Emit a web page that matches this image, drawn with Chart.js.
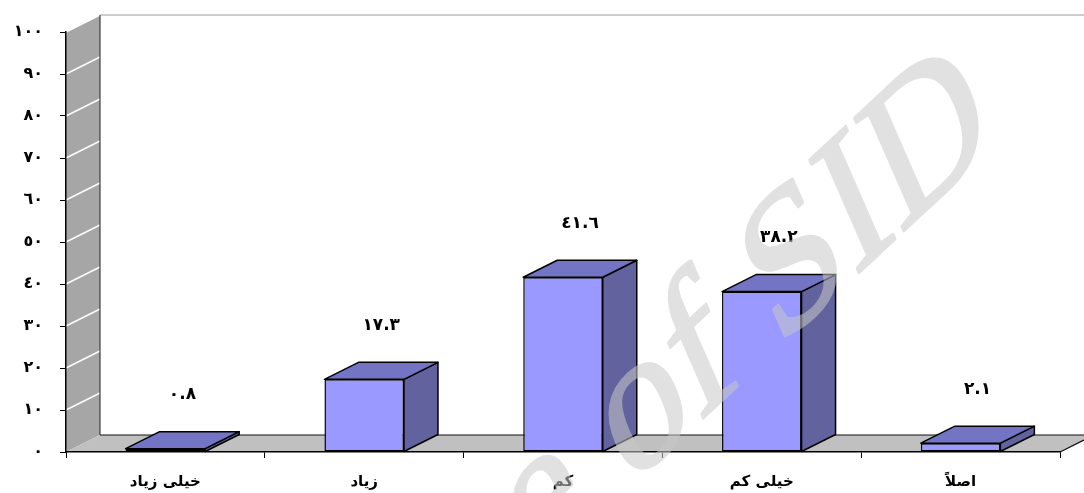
<!DOCTYPE html>
<html>
<head>
<meta charset="utf-8">
<script src="https://cdn.jsdelivr.net/npm/chart.js@4.4.0/dist/chart.umd.min.js"></script>
<style>
  html, body { margin: 0; padding: 0; background: #fff; }
</style>
</head>
<body>
<canvas id="chart" width="1084" height="493"></canvas>
<script>
// ---------- Data ----------
const categories = ['خیلی زیاد', 'زیاد', 'کم', 'خیلی کم', 'اصلاً'];
const values = [0.8, 17.3, 41.6, 38.2, 2.1];
const yTickLabels = ['٠', '١٠', '٢٠', '٣٠', '٤٠', '٥٠', '٦٠', '٧٠', '٨٠', '٩٠', '١٠٠'];

// ---------- Helpers ----------
const DX = 34, DY = -17;   // depth of the fake 3d box
const arabicDigits = '٠١٢٣٤٥٦٧٨٩';
const toArabic = s => String(s).replace(/\d/g, d => arabicDigits[d]);

function poly(ctx, pts) {
  ctx.beginPath();
  ctx.moveTo(pts[0][0], pts[0][1]);
  for (let i = 1; i < pts.length; i++) ctx.lineTo(pts[i][0], pts[i][1]);
  ctx.closePath();
}

function line(ctx, x1, y1, x2, y2) {
  ctx.beginPath();
  ctx.moveTo(x1, y1);
  ctx.lineTo(x2, y2);
  ctx.stroke();
}

// ---------- Walls, floor, bar tops/sides, labels, watermark ----------
const box3d = {
  id: 'box3d',
  beforeDraw(chart) {
    const { ctx, chartArea: a } = chart;
    const yScale = chart.scales.y;
    ctx.save();

    // back wall top edge
    ctx.strokeStyle = '#9a9a9a';
    ctx.lineWidth = 1;
    line(ctx, a.left + DX, a.top + DY, chart.width, a.top + DY);

    // left side wall
    ctx.fillStyle = '#a6a6a6';
    poly(ctx, [[a.left, a.bottom], [a.left, a.top], [a.left + DX, a.top + DY], [a.left + DX, a.bottom + DY]]);
    ctx.fill();

    // grid lines on the side wall
    ctx.strokeStyle = '#ffffff';
    ctx.lineWidth = 1.5;
    yScale.ticks.forEach(t => {
      if (t.value === 0) return;
      const py = yScale.getPixelForValue(t.value);
      line(ctx, a.left, py, a.left + DX, py + DY);
    });

    ctx.strokeStyle = '#222';
    ctx.lineWidth = 1;
    line(ctx, a.left + DX, a.top + DY, a.left + DX, a.bottom + DY);

    // floor
    ctx.fillStyle = '#c0c0c0';
    poly(ctx, [[a.left, a.bottom], [a.left + DX, a.bottom + DY], [a.right + DX, a.bottom + DY], [a.right, a.bottom]]);
    ctx.fill();
    ctx.strokeStyle = '#111';
    ctx.lineWidth = 1.2;
    ctx.beginPath();
    ctx.moveTo(a.left + DX, a.bottom + DY);
    ctx.lineTo(a.right + DX, a.bottom + DY);
    ctx.lineTo(a.right, a.bottom);
    ctx.stroke();
    ctx.restore();
  },
  afterDatasetsDraw(chart) {
    const { ctx } = chart;
    const meta = chart.getDatasetMeta(0);
    ctx.save();
    ctx.lineWidth = 1.5;
    ctx.strokeStyle = '#000';
    ctx.lineJoin = 'round';
    meta.data.forEach((bar, i) => {
      const x0 = bar.x - bar.width / 2, x1 = bar.x + bar.width / 2;
      const top = bar.y, base = bar.base;
      // side
      ctx.fillStyle = '#62629f';
      poly(ctx, [[x1, top], [x1 + DX, top + DY], [x1 + DX, base + DY], [x1, base]]);
      ctx.fill(); ctx.stroke();
      // top
      ctx.fillStyle = '#7474c4';
      poly(ctx, [[x0, top], [x0 + DX, top + DY], [x1 + DX, top + DY], [x1, top]]);
      ctx.fill(); ctx.stroke();
      // value label
      ctx.fillStyle = '#000';
      ctx.font = 'bold 17px "DejaVu Sans"';
      ctx.textAlign = 'center';
      ctx.textBaseline = 'middle';
      ctx.fillText(toArabic(values[i].toFixed(1)), bar.x + DX / 2, top - 54);
    });
    ctx.restore();
  },
  afterDraw(chart) {
    // skewed watermark text, drawn opaque off screen then blended in
    const off = document.createElement('canvas');
    off.width = chart.width;
    off.height = chart.height;
    const o = off.getContext('2d');
    o.setTransform(0.731, -0.682, 0.40, 0.916, 999, 142);
    o.font = '188px "Liberation Serif"';
    o.textAlign = 'right';
    o.textBaseline = 'alphabetic';
    o.fillStyle = 'rgb(200, 200, 200)';
    o.strokeStyle = 'rgb(200, 200, 200)';
    o.lineWidth = 3;
    o.lineJoin = 'round';
    o.fillText('Archive of SID', 0, 0);
    o.strokeText('Archive of SID', 0, 0);

    const { ctx } = chart;
    ctx.save();
    ctx.globalAlpha = 0.55;
    ctx.drawImage(off, 0, 0);
    ctx.restore();
  }
};

// ---------- Chart ----------
const ctx = document.getElementById('chart').getContext('2d');
new Chart(ctx, {
  type: 'bar',
  data: {
    labels: categories,
    datasets: [{
      data: values,
      backgroundColor: '#9999ff',
      borderColor: '#000',
      borderWidth: 1.5,
      borderSkipped: false,
      barPercentage: 0.4,
      categoryPercentage: 1
    }]
  },
  options: {
    responsive: false,
    animation: false,
    layout: { padding: { top: 32, right: 24, left: 0, bottom: 0 } },
    plugins: { legend: { display: false }, tooltip: { enabled: false } },
    scales: {
      x: {
        offset: true,
        grid: { drawOnChartArea: false, drawTicks: true, tickLength: 6, color: '#000', offset: true },
        border: { color: '#000', width: 1.5 },
        ticks: { color: '#000', font: { family: 'DejaVu Sans', size: 15, weight: 'bold' }, padding: 15, maxRotation: 0 },
        afterFit: s => { s.height = 41; }
      },
      y: {
        min: 0,
        max: 100,
        grid: { drawOnChartArea: false, drawTicks: true, tickLength: 6, color: '#000' },
        border: { color: '#000', width: 1.5 },
        ticks: {
          stepSize: 10,
          autoSkip: false,
          color: '#000',
          font: { family: 'DejaVu Sans', size: 16, weight: 'bold' },
          padding: 17,
          callback: (v, i) => yTickLabels[i]
        },
        afterFit: s => { s.width = 66; }
      }
    }
  },
  plugins: [box3d]
});
</script>
</body>
</html>
